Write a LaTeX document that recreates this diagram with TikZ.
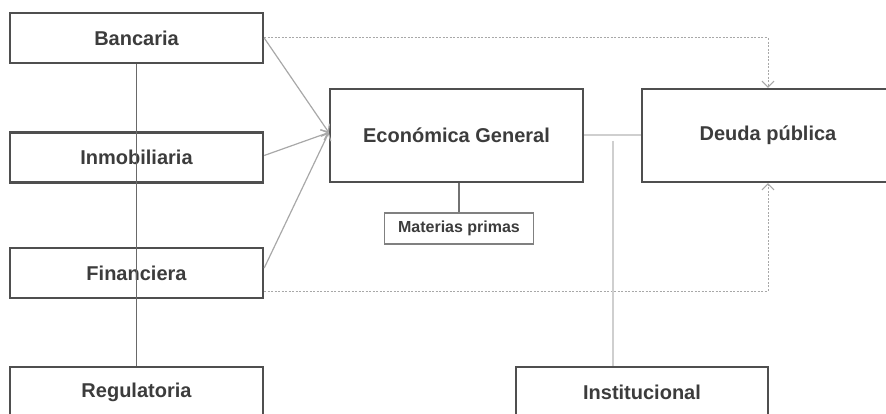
\documentclass[tikz,border=0pt]{standalone}
\usepackage{fontspec}
\setmainfont{Liberation Sans}
\usetikzlibrary{arrows.meta}

\definecolor{boxgray}{HTML}{4F4F4F}
\definecolor{txtgray}{HTML}{3C3C3C}
\definecolor{flowgray}{HTML}{A8A8A8}
\definecolor{linkgray}{HTML}{CFCFCF}
\definecolor{dotgray}{HTML}{A8A8A8}

\begin{document}
\begin{tikzpicture}[x=1pt,y=-1pt,
    area/.style={draw=boxgray, line width=2.4pt, fill=white, inner sep=0pt,
      minimum width=253pt, minimum height=50pt, text=txtgray,
      font=\fontsize{20}{23}\selectfont\bfseries},
    bigarea/.style={area, minimum height=93pt},
    smallarea/.style={draw=gray, line width=1.1pt, fill=white, inner sep=0pt,
      minimum width=149pt, minimum height=31pt, text=txtgray,
      font=\fontsize{16}{18}\selectfont\bfseries},
    flow/.style={draw=flowgray, line width=1.2pt, -{Straight Barb[length=6pt,width=11pt]}},
    dots/.style={draw=dotgray, line width=1pt, dash pattern=on 2pt off 1.5pt,
      -{Straight Barb[length=6pt,width=12pt]}},
    link/.style={draw=linkgray, line width=2pt}]
    \useasboundingbox (0,0) rectangle (886,414);
    \clip (0,0) rectangle (886,414);

    % left column
    \node[area] (banc) at (136.5,38) {Bancaria};
    \node[area] (inmo) at (136.5,157.5) {Inmobiliaria};
    \node[area] (fin) at (136.5,273) {Financiera};
    \node[area] (reg) at (136.5,392) {Regulatoria};

    % centre and right
    \node[bigarea] (econ) at (456.5,135.5) {Económica General};
    \node[bigarea, minimum width=252pt] (deuda) at (768,135.5) {Deuda pública};
    \node[area, minimum width=252pt] (inst) at (642,392) {Institucional};
    \node[smallarea] (mat) at (459,228.5) {Materias primas};

    % connectors
    \draw[boxgray!80, line width=1.1pt] (mat.north) -- (mat.north |- econ.south);
    \draw[flow] (banc.east) -- ([yshift=3pt]econ.west);
    \draw[flow] ([yshift=2pt]inmo.east) -- ([yshift=3pt]econ.west);
    \draw[flow] ([yshift=5pt]fin.east) -- ([yshift=3pt]econ.west);
    \draw[dots] (banc.east) -| (deuda.north);
    \draw[dots] ([yshift=-18pt]fin.east) -| (deuda.south);
    \draw[link] (econ.east) -- (deuda.west);
    \coordinate (tap) at (613,141);
    \draw[link, line width=1.6pt] (tap) -- (tap |- inst.north);
    \draw[boxgray!85, line width=1.1pt] (banc.south) -- (reg.north);
\end{tikzpicture}
\end{document}
